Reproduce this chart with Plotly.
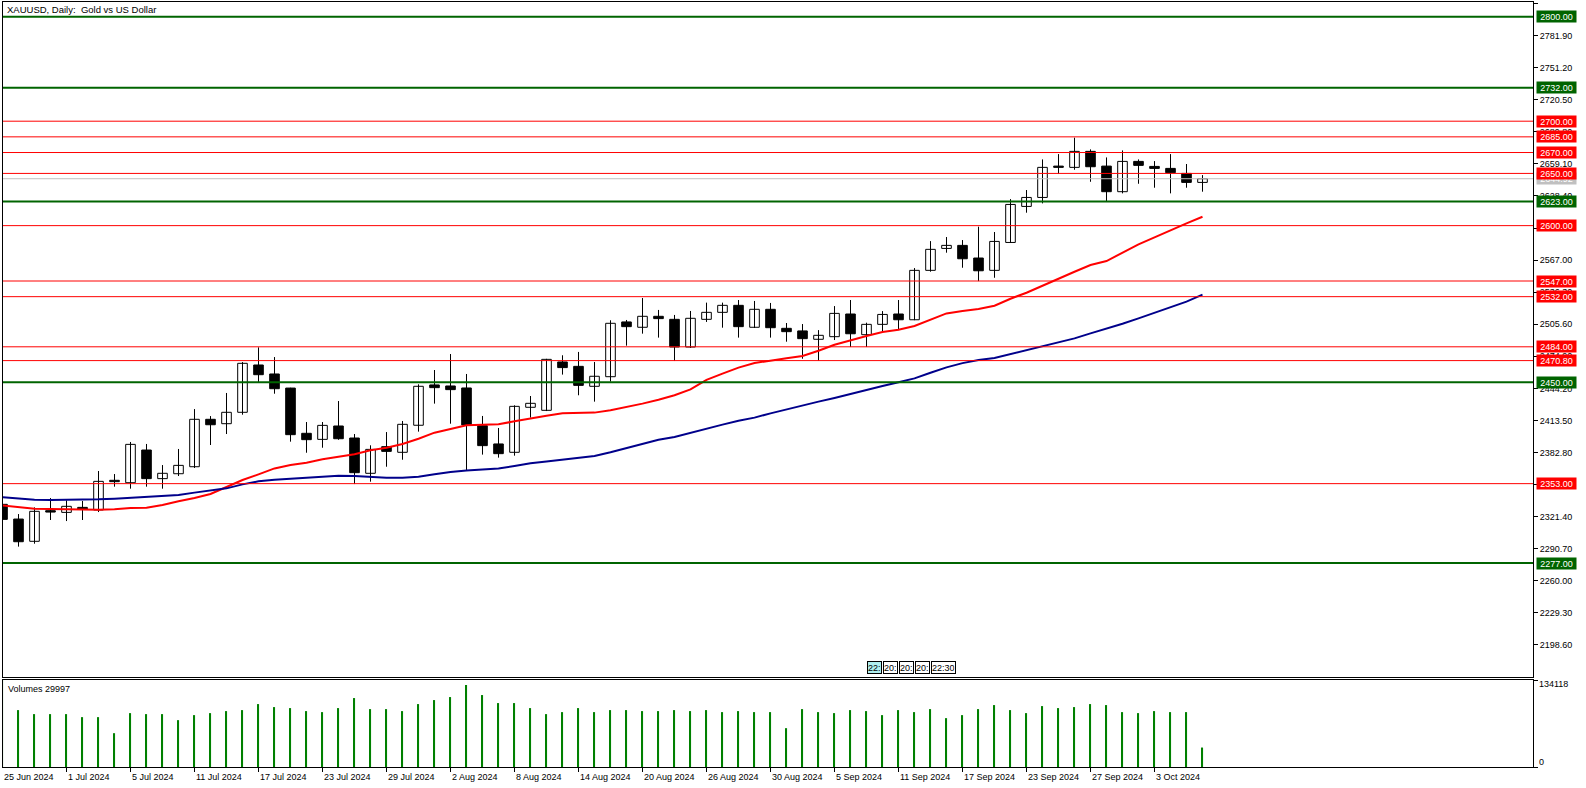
import plotly.graph_objects as go
import pandas as pd

# ---------------- data ----------------
trading_days = [
    ("2024-06", [25, 26, 27, 28]),
    ("2024-07", [1, 2, 3, 4, 5, 8, 9, 10, 11, 12, 15, 16, 17, 18, 19, 22, 23, 24, 25, 26, 29, 30, 31]),
    ("2024-08", [1, 2, 5, 6, 7, 8, 9, 12, 13, 14, 15, 16, 19, 20, 21, 22, 23, 26, 27, 28, 29, 30]),
    ("2024-09", [2, 3, 4, 5, 6, 9, 10, 11, 12, 13, 16, 17, 18, 19, 20, 23, 24, 25, 26, 27, 30]),
    ("2024-10", [1, 2, 3, 4, 7, 8]),
]
dates = [f"{m}-{d:02d}" for m, ds in trading_days for d in ds]

open_ = [2333.2, 2319.1, 2297.8, 2327.1, 2325.5, 2330.3, 2327.8, 2356.2, 2353.9, 2385.2,
         2357.8, 2362.5, 2369.2, 2414.6, 2410.4, 2421.3, 2466.6, 2458.0, 2444.5, 2401.2,
         2395.4, 2408.2, 2396.7, 2362.9, 2388.4, 2383.0, 2408.9, 2447.5, 2446.5, 2444.6,
         2408.5, 2391.0, 2383.0, 2426.1, 2423.2, 2469.5, 2465.3, 2446.2, 2455.4, 2507.8,
         2502.7, 2513.2, 2510.3, 2483.8, 2510.3, 2517.0, 2523.7, 2502.7, 2519.9, 2501.7,
         2499.2, 2491.2, 2493.7, 2515.4, 2495.6, 2505.5, 2515.4, 2509.9, 2557.2, 2578.2,
         2581.1, 2569.0, 2557.2, 2583.9, 2618.4, 2627.0, 2657.0, 2655.8, 2671.1, 2657.0,
         2632.5, 2661.5, 2656.7, 2654.8, 2650.0, 2641.4]
high = [2334.5, 2323.9, 2330.3, 2339.2, 2337.0, 2336.4, 2365.1, 2362.2, 2392.9, 2391.0,
        2370.8, 2386.2, 2424.4, 2417.7, 2439.8, 2469.4, 2483.5, 2474.2, 2444.8, 2412.0,
        2412.0, 2432.1, 2400.5, 2389.7, 2402.4, 2413.0, 2448.1, 2461.8, 2477.1, 2458.0,
        2417.8, 2406.3, 2428.0, 2436.9, 2472.5, 2475.9, 2479.1, 2469.5, 2509.4, 2509.7,
        2530.7, 2519.3, 2514.5, 2518.3, 2526.3, 2526.3, 2528.8, 2527.9, 2526.0, 2506.8,
        2505.8, 2500.0, 2523.0, 2528.8, 2507.1, 2518.2, 2528.8, 2559.4, 2585.2, 2589.1,
        2586.2, 2599.0, 2593.9, 2625.4, 2634.1, 2663.4, 2668.5, 2684.2, 2673.0, 2665.3,
        2672.0, 2663.4, 2661.8, 2668.5, 2659.0, 2648.4]
low = [2317.0, 2292.7, 2295.5, 2318.2, 2317.2, 2318.2, 2325.8, 2350.1, 2348.2, 2350.1,
       2348.2, 2360.3, 2368.0, 2390.0, 2400.5, 2419.0, 2450.0, 2439.1, 2393.2, 2382.6,
       2387.4, 2395.0, 2352.6, 2354.9, 2369.2, 2375.9, 2402.8, 2429.6, 2410.4, 2365.5,
       2380.8, 2377.9, 2379.8, 2416.2, 2422.5, 2457.4, 2437.6, 2431.5, 2450.7, 2485.1,
       2496.6, 2492.8, 2470.4, 2483.0, 2507.8, 2502.3, 2492.8, 2502.0, 2492.8, 2488.9,
       2472.6, 2470.6, 2490.5, 2483.8, 2483.8, 2498.5, 2500.0, 2509.5, 2555.9, 2574.1,
       2559.7, 2546.9, 2550.1, 2583.5, 2612.4, 2621.3, 2649.4, 2653.5, 2642.0, 2623.2,
       2630.9, 2640.1, 2636.3, 2630.9, 2636.3, 2632.5]
close = [2318.8, 2297.4, 2326.5, 2325.8, 2331.3, 2328.7, 2355.2, 2354.9, 2390.6, 2357.8,
         2362.9, 2370.5, 2414.6, 2409.4, 2421.3, 2468.2, 2457.3, 2443.9, 2399.9, 2395.1,
         2408.8, 2396.0, 2363.5, 2385.8, 2383.9, 2409.8, 2446.2, 2444.9, 2443.0, 2409.2,
         2389.4, 2381.7, 2427.0, 2429.9, 2472.0, 2464.1, 2447.1, 2455.8, 2506.5, 2503.3,
         2513.2, 2511.0, 2483.8, 2511.3, 2517.0, 2523.7, 2503.3, 2519.9, 2502.3, 2498.5,
         2491.8, 2495.0, 2516.0, 2496.5, 2505.5, 2515.0, 2509.9, 2557.2, 2577.3, 2581.1,
         2568.3, 2556.8, 2584.9, 2620.3, 2627.0, 2655.8, 2655.8, 2671.1, 2656.4, 2632.5,
         2661.5, 2657.7, 2654.8, 2650.7, 2641.4, 2644.92]

ma_red = [2332.2, 2330.3, 2329.0, 2328.7, 2328.4, 2328.1, 2328.1, 2328.4, 2329.7, 2330.0,
          2332.5, 2336.1, 2339.2, 2343.1, 2349.5, 2356.5, 2361.9, 2367.6, 2370.8, 2373.1,
          2376.3, 2378.8, 2381.1, 2384.9, 2387.4, 2391.0, 2396.0, 2401.8, 2405.3, 2408.8,
          2409.5, 2409.8, 2412.7, 2415.6, 2418.1, 2420.3, 2421.0, 2421.0, 2423.2, 2426.1,
          2429.6, 2433.4, 2437.6, 2443.3, 2452.3, 2458.3, 2464.1, 2468.5, 2471.1, 2473.0,
          2475.3, 2480.2, 2486.0, 2490.5, 2494.3, 2498.1, 2500.4, 2503.9, 2509.9, 2516.0,
          2518.2, 2520.1, 2523.3, 2530.0, 2535.8, 2542.8, 2549.2, 2555.9, 2562.3, 2566.1,
          2574.4, 2582.1, 2588.8, 2595.1, 2602.1, 2608.5]
ma_blue = [2339.9, 2338.6, 2337.7, 2337.3, 2337.3, 2337.3, 2338.0, 2338.6, 2339.6, 2340.5,
           2341.5, 2342.1, 2344.4, 2346.3, 2348.5, 2352.3, 2355.2, 2356.8, 2357.8, 2359.0,
           2360.0, 2360.6, 2360.3, 2359.3, 2358.7, 2358.7, 2359.5, 2361.9, 2364.2, 2365.5,
           2366.1, 2367.4, 2369.9, 2372.5, 2374.1, 2375.7, 2377.6, 2379.5, 2383.0, 2387.2,
           2391.3, 2395.1, 2397.7, 2401.8, 2405.7, 2409.5, 2413.3, 2416.2, 2420.3, 2424.2,
           2427.7, 2431.5, 2435.0, 2439.0, 2443.0, 2446.5, 2450.0, 2453.8, 2459.2, 2464.3,
           2468.4, 2471.3, 2473.2, 2477.1, 2480.9, 2484.4, 2488.2, 2492.1, 2496.9, 2501.3,
           2506.1, 2511.2, 2516.6, 2522.1, 2527.2, 2533.9]

volume = [134118, 87715, 81527, 81527, 81527, 76886, 76886, 52134, 83074, 81527,
          81527, 72245, 79980, 83074, 86168, 87715, 96997, 92356, 90809, 86168,
          84621, 90809, 106279, 89262, 89262, 86168, 96997, 103185, 107826, 126390,
          110920, 98544, 98544, 90809, 81527, 84621, 90809, 84621, 87715, 87715,
          86168, 86168, 87715, 86168, 87715, 84621, 86168, 84621, 84621, 59869,
          89262, 84621, 83074, 87715, 86168, 79980, 87715, 84621, 89262, 75339,
          79980, 89262, 95450, 87715, 83074, 93903, 90809, 92356, 96997, 95450,
          84621, 83074, 86168, 84621, 84621, 29997]

green_levels = [2800.00, 2732.00, 2623.00, 2450.00, 2277.00]
red_levels = [2700.00, 2685.00, 2670.00, 2650.00, 2600.00, 2547.00, 2532.00, 2484.00, 2470.80, 2353.00]

price_ticks = [2198.60, 2229.30, 2260.00, 2290.70, 2321.40, 2352.10, 2382.80, 2413.50, 2444.20,
               2474.90, 2505.60, 2536.30, 2567.00, 2597.70, 2628.40, 2659.10, 2689.80, 2720.50,
               2751.20, 2781.90, 2812.60]
volume_ticks = [0, 134118]

date_labels = ["25 Jun 2024", "1 Jul 2024", "5 Jul 2024", "11 Jul 2024", "17 Jul 2024",
               "23 Jul 2024", "29 Jul 2024", "2 Aug 2024", "8 Aug 2024", "14 Aug 2024",
               "20 Aug 2024", "26 Aug 2024", "30 Aug 2024", "5 Sep 2024", "11 Sep 2024",
               "17 Sep 2024", "23 Sep 2024", "27 Sep 2024", "3 Oct 2024"]
date_ticks = [pd.to_datetime(s, format="%d %b %Y").strftime("%Y-%m-%d") for s in date_labels]

title_text = "XAUUSD, Daily:\u00a0 Gold vs US Dollar"
time_boxes = ["22:", "20:", "20:", "20:", "22:30"]

# ---------------- style ----------------
FONT = "Liberation Sans"
FS = 9
W, H = 1586, 788
ML, MR, MT, MB = 3, 53, 2, 21
PW = W - ML - MR
PH = H - MT - MB
main_bottom_px, vol_top_px = 677, 680
main_dom = [(H - MB - main_bottom_px) / PH, 1]
vol_dom = [0, (H - MB - vol_top_px) / PH]
x_range = [(ML - 2.5) / 16, (ML + PW - 2.5) / 16]
y_range = [2167.9, 2814.1]
GREEN = "#006400"
RED = "#FF0000"

fig = go.Figure()

# wicks
wx, wy = [], []
for d, h, l in zip(dates, high, low):
    wx += [d, d, None]
    wy += [l, h, None]
fig.add_trace(go.Scatter(x=wx, y=wy, mode="lines", line=dict(color="black", width=1),
                         hoverinfo="skip", xaxis="x", yaxis="y"))
# bodies
body_base = [min(o, c) for o, c in zip(open_, close)]
body_h = [abs(c - o) for o, c in zip(open_, close)]
body_col = ["white" if c >= o else "black" for o, c in zip(open_, close)]
fig.add_trace(go.Bar(x=dates, y=body_h, base=body_base, width=0.6,
                     marker=dict(color=body_col, line=dict(color="black", width=1)),
                     xaxis="x", yaxis="y"))
# moving averages
fig.add_trace(go.Scatter(x=dates, y=ma_red, mode="lines", line=dict(color=RED, width=2),
                         xaxis="x", yaxis="y"))
fig.add_trace(go.Scatter(x=dates, y=ma_blue, mode="lines", line=dict(color="#00008B", width=2),
                         xaxis="x", yaxis="y"))
# volumes
fig.add_trace(go.Bar(x=dates, y=volume, width=0.07, marker=dict(color="#008000", line=dict(width=0)),
                     xaxis="x2", yaxis="y2"))

shapes = []
# current price line
shapes.append(dict(type="line", xref="paper", x0=0, x1=1, yref="y", y0=close[-1], y1=close[-1],
                   line=dict(color="#C0C0C0", width=1)))
for lv in red_levels:
    shapes.append(dict(type="line", xref="paper", x0=0, x1=1, yref="y", y0=lv, y1=lv,
                       line=dict(color=RED, width=1)))
for lv in green_levels:
    shapes.append(dict(type="line", xref="paper", x0=0, x1=1, yref="y", y0=lv, y1=lv,
                       line=dict(color=GREEN, width=2)))

ann = []
def price_label(v, bg):
    return dict(xref="paper", x=1, xanchor="left", xshift=3, yref="y", y=v, yanchor="middle",
                text=f"{v:.2f}", showarrow=False, bgcolor=bg, width=39, height=11,
                borderpad=0, align="center", font=dict(family=FONT, size=FS, color="white"))

ann.append(price_label(close[-1], "#C0C0C0"))
for lv in red_levels:
    ann.append(price_label(lv, RED))
for lv in green_levels:
    ann.append(price_label(lv, GREEN))

# date labels (left aligned at tick, as in MT5)
for d, t in zip(date_ticks, date_labels):
    pos = dates.index(d)
    if pos < x_range[0]:
        ref = dict(xref="paper", x=0, xshift=-1)
    else:
        ref = dict(xref="x2", x=d, xshift=-1)
    ann.append(dict(**ref, xanchor="left", yref="paper", y=0, yanchor="middle",
                    yshift=-10, text=t, showarrow=False,
                    font=dict(family=FONT, size=FS, color="black")))

# volume scale labels
for v in volume_ticks:
    ann.append(dict(xref="paper", x=1, xanchor="left", xshift=4, yref="y2", y=v, yanchor="middle",
                    yshift=(5 if v == 0 else -4), text=f"{v}", showarrow=False,
                    font=dict(family=FONT, size=FS, color="black")))

ann.append(dict(xref="paper", x=0, xanchor="left", xshift=2, yref="paper", y=1, yanchor="middle",
                yshift=-7, text=title_text, showarrow=False,
                font=dict(family=FONT, size=9.5, color="black")))
ann.append(dict(xref="paper", x=0, xanchor="left", xshift=3, yref="paper", y=vol_dom[1],
                yanchor="middle", yshift=-9, text=f"Volumes {volume[-1]}", showarrow=False,
                font=dict(family=FONT, size=FS, color="black")))

# time separator boxes
box_px = [874, 890, 906, 922, 943]
for i, (t, px) in enumerate(zip(time_boxes, box_px)):
    ann.append(dict(xref="paper", x=(px - ML) / PW, xanchor="center", yref="paper",
                    y=(H - MB - 667) / PH, yanchor="middle", text=t, showarrow=False,
                    bgcolor=("#AFEEEE" if i == 0 else "white"), bordercolor="black",
                    borderwidth=1, borderpad=0, height=11,
                    font=dict(family=FONT, size=FS, color="black")))

axis_common = dict(showgrid=False, zeroline=False, showline=True, mirror=True,
                   linecolor="black", linewidth=1)

fig.update_layout(
    width=W, height=H, margin=dict(l=ML, r=MR, t=MT, b=MB),
    paper_bgcolor="white", plot_bgcolor="white", showlegend=False, barmode="overlay",
    font=dict(family=FONT, size=FS, color="black"),
    xaxis=dict(domain=[0, 1], anchor="y", type="category", categoryorder="array",
               categoryarray=dates, range=x_range, showticklabels=False, ticks="",
               matches="x2", **axis_common),
    yaxis=dict(domain=main_dom, anchor="x", side="right", range=y_range,
               tickmode="array", tickvals=price_ticks, ticktext=[f"{v:.2f}" for v in price_ticks],
               ticks="outside", ticklen=4, tickcolor="black",
               tickfont=dict(family=FONT, size=FS, color="black"), **axis_common),
    xaxis2=dict(domain=[0, 1], anchor="y2", type="category", categoryorder="array",
                categoryarray=dates, range=x_range, tickmode="array", tickvals=date_ticks,
                showticklabels=False, ticks="outside", ticklen=4, tickcolor="black", **axis_common),
    yaxis2=dict(domain=vol_dom, anchor="x2", side="right", range=[0, volume_ticks[1]],
                tickmode="array", tickvals=volume_ticks, showticklabels=False,
                ticks="outside", ticklen=4, tickcolor="black", **axis_common),
    shapes=shapes, annotations=ann,
)

fig.write_html("out.html")
